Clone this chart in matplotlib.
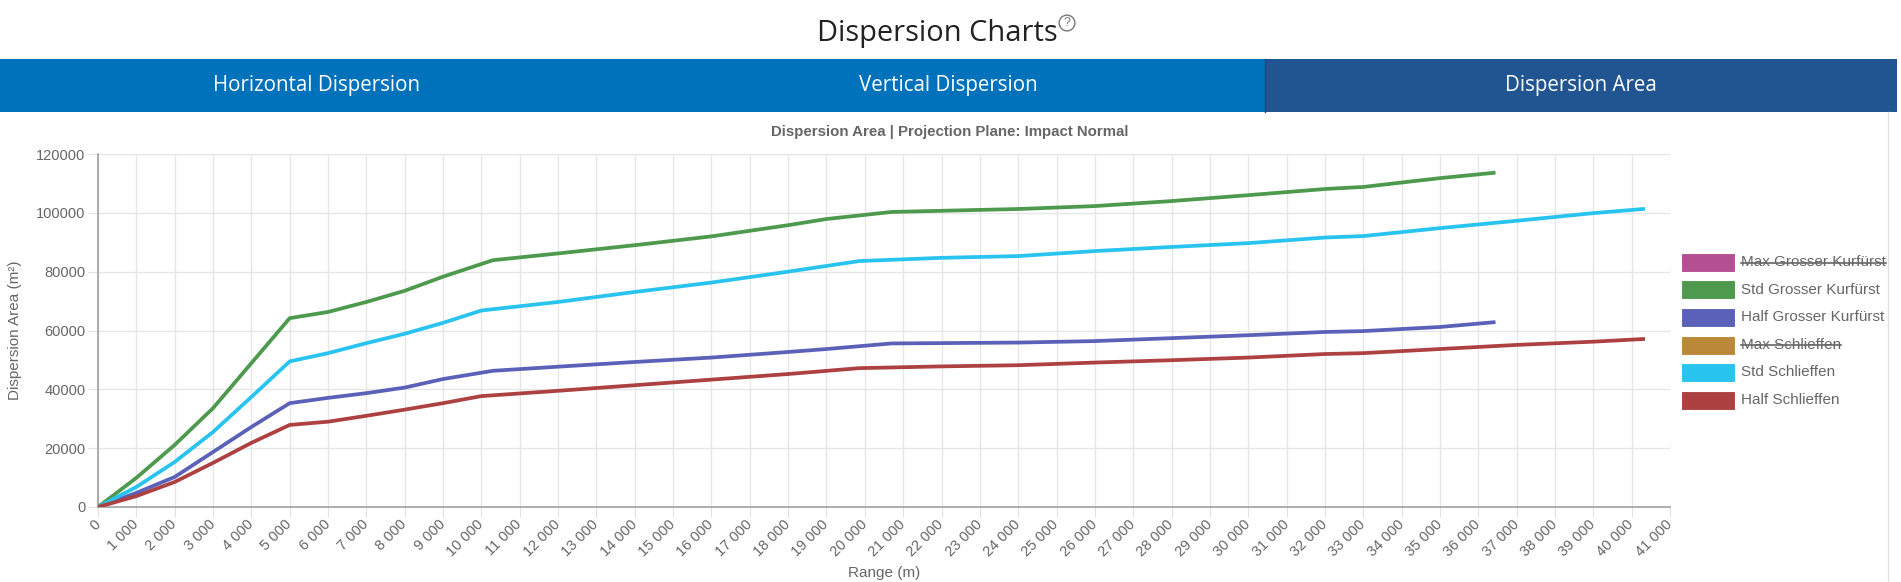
import matplotlib.pyplot as plt
from matplotlib.patches import Rectangle
from matplotlib.lines import Line2D
from matplotlib.ticker import FuncFormatter, MultipleLocator

W, H = 1901, 582

# Data
gk_range = [0, 1000, 2000, 3000, 4000, 5000, 6000, 7000, 8000, 9000, 10300, 12000, 14000,
            16000, 18000, 19000, 20700, 24000, 26000, 28000, 30000, 32000, 33000, 35000, 36400]
std_gk = [0, 9900, 21100, 33600, 48900, 64200, 66300, 69700, 73500, 78300, 83900, 86200, 89000,
          92000, 95800, 97900, 100300, 101300, 102300, 104000, 106000, 108100, 108800, 111800, 113600]
half_gk = [0, 4800, 10200, 18700, 27200, 35300, 37100, 38700, 40600, 43500, 46300, 47700, 49300,
           50800, 52700, 53700, 55600, 55900, 56400, 57400, 58400, 59500, 59800, 61200, 62800]

s_range = [0, 1000, 2000, 3000, 4000, 5000, 6000, 7000, 8000, 9000, 10000, 12000, 14000, 16000,
           18000, 19850, 22000, 24000, 26000, 28000, 30000, 32000, 33000, 35000, 37000, 39000, 40300]
std_s = [0, 6800, 15300, 25500, 37400, 49500, 52300, 55700, 58900, 62600, 66800, 69700, 73100, 76300,
         80000, 83600, 84700, 85300, 87000, 88400, 89700, 91600, 92100, 94800, 97300, 99900, 101300]
half_s = [0, 3700, 8500, 15000, 21800, 27900, 29000, 31000, 33100, 35300, 37700, 39500, 41400, 43300,
          45200, 47200, 47800, 48200, 49100, 49900, 50800, 52000, 52300, 53700, 55100, 56200, 57100]

legend_labels = ['Max Grosser Kurfürst', 'Std Grosser Kurfürst', 'Half Grosser Kurfürst',
                 'Max Schlieffen', 'Std Schlieffen', 'Half Schlieffen']
legend_colors = ['#b44f91', '#4d994d', '#5b61b8', '#bb8839', '#29c3f0', '#ad4141']
legend_hidden = [True, False, False, True, False, False]
tabs = ['Horizontal Dispersion', 'Vertical Dispersion', 'Dispersion Area']
tab_colors = ['#0072bc', '#0072bc', '#215591']

plt.rcParams['font.family'] = ['Liberation Sans', 'DejaVu Sans']


def fx(px):
    return px / W


def fy(py):
    return 1 - py / H


fig = plt.figure(figsize=(W / 100, H / 100), dpi=100)

# header
fig.text(fx(937), fy(33), 'Dispersion Charts', ha='center', va='center',
         fontsize=20.9, color='#222222', family=['Open Sans', 'DejaVu Sans'])
fig.text(fx(1067), fy(23), '?', ha='center', va='center', fontsize=9, color='#777777',
         bbox=dict(boxstyle='circle,pad=0.15', fc='none', ec='#777777', lw=1))

seg = 1897 / 3
for i, (t, c) in enumerate(zip(tabs, tab_colors)):
    fig.patches.append(Rectangle((fx(i * seg), fy(112)), seg / W, 53 / H,
                                 transform=fig.transFigure, fc=c, ec='none'))
    fig.text(fx(i * seg + seg / 2), fy(86), t, ha='center', va='center', fontsize=14.8,
             color='white', family=['Open Sans', 'DejaVu Sans'])
fig.add_artist(Line2D([fx(1265), fx(1265)], [fy(112), fy(59)], color='#1a4a80', lw=1))
fig.add_artist(Line2D([fx(1888), fx(1888)], [fy(112), fy(582)], color='#e2e2e2', lw=1))

fig.text(fx(950), fy(132), 'Dispersion Area | Projection Plane: Impact Normal', ha='center',
         va='center', fontsize=10.8, fontweight='bold', color='#666666')

# main plot
ax = fig.add_axes([fx(98), fy(507), (1670 - 98) / W, (507 - 154) / H])
ax.plot(gk_range, std_gk, color=legend_colors[1], lw=2.7, solid_joinstyle='round', zorder=3)
ax.plot(gk_range, half_gk, color=legend_colors[2], lw=2.7, solid_joinstyle='round', zorder=3)
ax.plot(s_range, std_s, color=legend_colors[4], lw=2.7, solid_joinstyle='round', zorder=3)
ax.plot(s_range, half_s, color=legend_colors[5], lw=2.7, solid_joinstyle='round', zorder=3)

ax.set_xlim(0, 41000)
ax.set_ylim(0, 120000)
ax.xaxis.set_major_locator(MultipleLocator(1000))
ax.yaxis.set_major_locator(MultipleLocator(20000))
ax.xaxis.set_major_formatter(FuncFormatter(lambda v, p: f'{int(v):,}'.replace(',', ' ')))
ax.yaxis.set_major_formatter(FuncFormatter(lambda v, p: f'{int(v)}'))
ax.grid(True, color='#e6e6e6', lw=1)
ax.set_axisbelow(True)
for s in ['top', 'right']:
    ax.spines[s].set_visible(False)
for s in ['left', 'bottom']:
    ax.spines[s].set_color('#a0a0a0')
    ax.spines[s].set_linewidth(1.2)
ax.tick_params(axis='both', colors='#e0e0e0', labelcolor='#666666', labelsize=10.5, length=7)
ax.tick_params(axis='y', pad=2)
ax.tick_params(axis='x', pad=4)
for lab in ax.get_xticklabels():
    lab.set_rotation(45)
    lab.set_ha('right')
    lab.set_va('center')
    lab.set_rotation_mode('anchor')

ax.set_xlabel('Range (m)', fontsize=11, color='#666666')
ax.xaxis.set_label_coords(0.5, -(566 - 507) / (507 - 154))
ax.set_ylabel('Dispersion Area (m²)', fontsize=11, color='#666666')
ax.yaxis.set_label_coords(-(98 - 22) / (1670 - 98), 0.5)

# legend, built by hand so hidden series can be struck through
texts = []
for i, (lab, c, hid) in enumerate(zip(legend_labels, legend_colors, legend_hidden)):
    yc = 262.5 + i * 27.5
    fig.patches.append(Rectangle((fx(1681), fy(yc + 9.5)), 54 / W, 19 / H,
                                 transform=fig.transFigure, fc=c, ec='white', lw=0.8))
    t = fig.text(fx(1741), fy(yc), lab, ha='left', va='center', fontsize=11, color='#666666')
    texts.append((t, hid))

fig.canvas.draw()
r = fig.canvas.get_renderer()
for t, hid in texts:
    if hid:
        bb = t.get_window_extent(r)
        ymid = (bb.y0 + bb.y1) / 2 / fig.bbox.height
        fig.add_artist(Line2D([bb.x0 / fig.bbox.width, bb.x1 / fig.bbox.width], [ymid, ymid],
                              color='#666666', lw=1.2))

plt.savefig('out.png', dpi=100)
print('Saved to: out.png')
